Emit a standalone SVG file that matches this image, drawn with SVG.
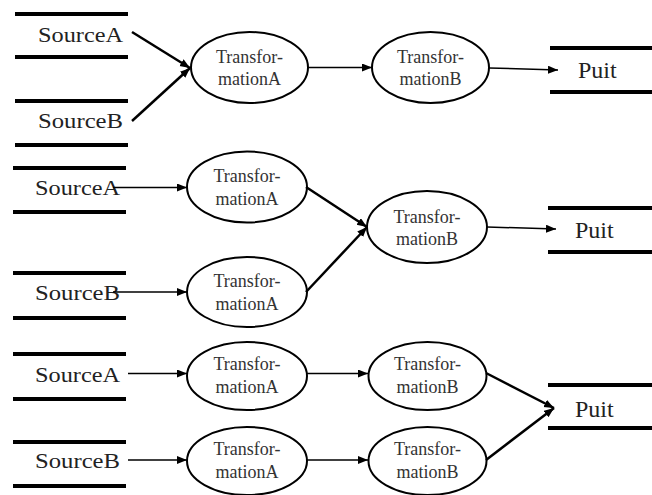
<svg xmlns="http://www.w3.org/2000/svg" width="652" height="495" viewBox="0 0 652 495">
<style>
.store{stroke:#000;stroke-width:4;fill:none}
.src{font-family:"Liberation Serif","Times New Roman",serif;font-size:22px;fill:#222}
.puit{font-family:"Liberation Serif","Times New Roman",serif;font-size:24px;fill:#222}
.proc{fill:#fff;stroke:#000;stroke-width:2}
.lbl{font-family:"Liberation Serif","Times New Roman",serif;font-size:18px;fill:#333;text-anchor:middle}
.c{stroke:#000;stroke-width:1.5;fill:none;marker-end:url(#ah)}
.cb{stroke:#000;stroke-width:2.5;fill:none;marker-end:url(#ah)}
</style>
<defs>
<marker id="ah" markerUnits="userSpaceOnUse" markerWidth="11" markerHeight="9" refX="10" refY="4" orient="auto">
<path d="M0,0 L10,4 L0,8 z" fill="#000"/>
</marker>
</defs>
<rect width="652" height="495" fill="#fff"/>

<!-- Section 1 -->
<g id="s1-sourceA">
<line class="store" x1="15" y1="14" x2="128" y2="14"/>
<line class="store" x1="15" y1="57" x2="128" y2="57"/>
<text class="src" x="38" y="42" textLength="85" lengthAdjust="spacingAndGlyphs">SourceA</text>
</g>
<g id="s1-sourceB">
<line class="store" x1="15" y1="101" x2="128" y2="101"/>
<line class="store" x1="15" y1="145" x2="128" y2="145"/>
<text class="src" x="38" y="128" textLength="85" lengthAdjust="spacingAndGlyphs">SourceB</text>
</g>
<g id="s1-transA">
<ellipse class="proc" cx="249.5" cy="67.5" rx="58.5" ry="35.5"/>
<text class="lbl" x="249.5" y="63">Transfor-</text>
<text class="lbl" x="249.5" y="85">mationA</text>
</g>
<g id="s1-transB">
<ellipse class="proc" cx="430.5" cy="67.5" rx="58.5" ry="35.5"/>
<text class="lbl" x="430.5" y="63">Transfor-</text>
<text class="lbl" x="430.5" y="85">mationB</text>
</g>
<g id="s1-puit">
<line class="store" x1="550" y1="48" x2="652" y2="48"/>
<line class="store" x1="550" y1="92" x2="652" y2="92"/>
<text class="puit" x="578" y="78">Puit</text>
</g>

<!-- Section 2 -->
<g id="s2-sourceA">
<line class="store" x1="13" y1="168" x2="126" y2="168"/>
<line class="store" x1="13" y1="212" x2="126" y2="212"/>
<text class="src" x="35" y="195" textLength="85" lengthAdjust="spacingAndGlyphs">SourceA</text>
</g>
<g id="s2-sourceB">
<line class="store" x1="13" y1="273" x2="126" y2="273"/>
<line class="store" x1="13" y1="318" x2="126" y2="318"/>
<text class="src" x="35" y="300" textLength="85" lengthAdjust="spacingAndGlyphs">SourceB</text>
</g>
<g id="s2-transA1">
<ellipse class="proc" cx="247" cy="187" rx="60" ry="35.5"/>
<text class="lbl" x="247" y="182">Transfor-</text>
<text class="lbl" x="247" y="205">mationA</text>
</g>
<g id="s2-transA2">
<ellipse class="proc" cx="247" cy="292" rx="60" ry="35"/>
<text class="lbl" x="247" y="287">Transfor-</text>
<text class="lbl" x="247" y="310">mationA</text>
</g>
<g id="s2-transB">
<ellipse class="proc" cx="427" cy="227" rx="60" ry="36"/>
<text class="lbl" x="427" y="223">Transfor-</text>
<text class="lbl" x="427" y="245">mationB</text>
</g>
<g id="s2-puit">
<line class="store" x1="548" y1="208" x2="652" y2="208"/>
<line class="store" x1="548" y1="252" x2="652" y2="252"/>
<text class="puit" x="575" y="238">Puit</text>
</g>

<!-- Section 3 -->
<g id="s3-sourceA">
<line class="store" x1="13" y1="354" x2="126" y2="354"/>
<line class="store" x1="13" y1="399" x2="126" y2="399"/>
<text class="src" x="35" y="382" textLength="85" lengthAdjust="spacingAndGlyphs">SourceA</text>
</g>
<g id="s3-sourceB">
<line class="store" x1="13" y1="442" x2="126" y2="442"/>
<line class="store" x1="13" y1="486" x2="126" y2="486"/>
<text class="src" x="35" y="468" textLength="85" lengthAdjust="spacingAndGlyphs">SourceB</text>
</g>
<g id="s3-transA1">
<ellipse class="proc" cx="247" cy="376" rx="60" ry="34"/>
<text class="lbl" x="247" y="370">Transfor-</text>
<text class="lbl" x="247" y="393">mationA</text>
</g>
<g id="s3-transA2">
<ellipse class="proc" cx="247" cy="461" rx="60" ry="34"/>
<text class="lbl" x="247" y="455">Transfor-</text>
<text class="lbl" x="247" y="478">mationA</text>
</g>
<g id="s3-transB1">
<ellipse class="proc" cx="427.5" cy="376" rx="59" ry="34"/>
<text class="lbl" x="427.5" y="370">Transfor-</text>
<text class="lbl" x="427.5" y="393">mationB</text>
</g>
<g id="s3-transB2">
<ellipse class="proc" cx="427.5" cy="461" rx="59" ry="34"/>
<text class="lbl" x="427.5" y="455">Transfor-</text>
<text class="lbl" x="427.5" y="478">mationB</text>
</g>
<g id="s3-puit">
<line class="store" x1="548" y1="385" x2="652" y2="385"/>
<line class="store" x1="548" y1="428" x2="652" y2="428"/>
<text class="puit" x="575" y="417">Puit</text>
</g>

<g id="connectors">
<line class="cb" x1="132" y1="32" x2="190" y2="68"/>
<line class="cb" x1="132" y1="121" x2="190" y2="68"/>
<line class="c" x1="308" y1="67.5" x2="372" y2="67.5"/>
<line class="c" x1="489" y1="68" x2="558" y2="70"/>

<line class="c" x1="113" y1="187.5" x2="187" y2="187.5"/>
<line class="c" x1="113" y1="292" x2="187" y2="292"/>
<line class="cb" x1="306" y1="187" x2="367" y2="227"/>
<line class="cb" x1="306" y1="292" x2="367" y2="227"/>
<line class="c" x1="487" y1="227" x2="556" y2="229"/>

<line class="c" x1="128" y1="373.5" x2="187" y2="373.5"/>
<line class="c" x1="128" y1="460" x2="187" y2="460"/>
<line class="c" x1="307" y1="373.5" x2="368" y2="373.5"/>
<line class="c" x1="307" y1="460" x2="368" y2="460"/>
<line class="cb" x1="486" y1="373" x2="554" y2="408"/>
<line class="cb" x1="486" y1="460" x2="554" y2="408"/>
</g>
</svg>
